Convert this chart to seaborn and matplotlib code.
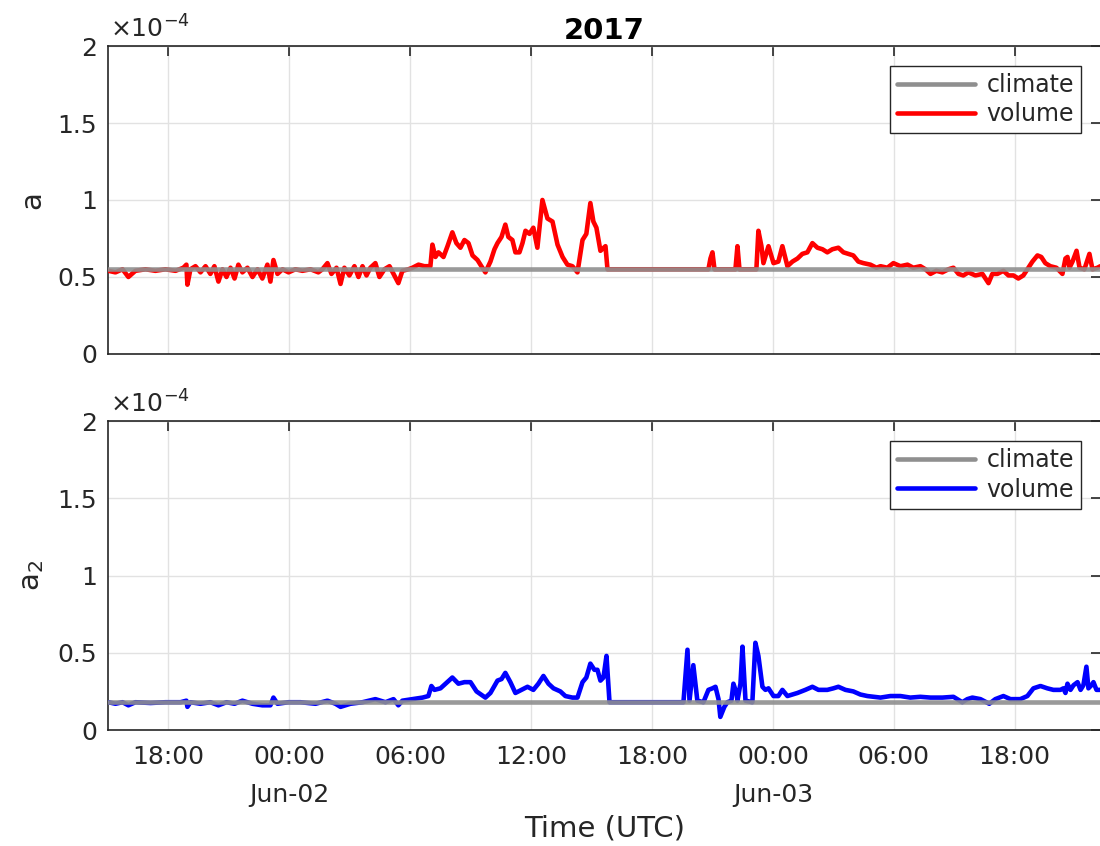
import numpy as np
import pandas as pd
import matplotlib
matplotlib.use('Agg')
import matplotlib.pyplot as plt
import seaborn as sns

# Hours after 2017-06-01 00:00 UTC, values in units of 1e-4
a_hours = [15.02, 15.37, 15.72, 16.01, 16.36, 16.86, 17.35, 17.85, 18.35, 18.74,
           18.89, 18.94, 19.09, 19.34, 19.59, 19.84, 20.08, 20.28, 20.48, 20.68,
           20.88, 21.08, 21.28, 21.47, 21.67, 21.92, 22.17, 22.42, 22.66, 22.91,
           23.06, 23.21, 23.41, 23.66, 23.96, 24.30, 24.65, 25.05, 25.44, 25.64,
           25.89, 26.09, 26.34, 26.54, 26.73, 26.98, 27.23, 27.43, 27.63, 27.83,
           28.02, 28.27, 28.47, 28.72, 28.97, 29.17, 29.41, 29.61, 29.91, 30.11,
           30.41, 30.70, 31.00, 31.10, 31.25, 31.40, 31.65, 31.85, 32.09, 32.29,
           32.49, 32.69, 32.89, 33.09, 33.34, 33.53, 33.73, 33.98, 34.18, 34.33,
           34.53, 34.72, 34.87, 35.07, 35.22, 35.42, 35.57, 35.72, 35.92, 36.11,
           36.31, 36.56, 36.81, 37.06, 37.31, 37.56, 37.80, 38.05, 38.30, 38.55,
           38.74, 38.94, 39.09, 39.24, 39.44, 39.69, 39.79, 44.80, 44.90, 45.00,
           45.10, 46.14, 46.24, 46.34, 47.18, 47.28, 47.43, 47.53, 47.78, 48.03,
           48.27, 48.47, 48.72, 48.97, 49.22, 49.46, 49.71, 49.96, 50.21, 50.46,
           50.70, 50.95, 51.25, 51.50, 51.75, 51.99, 52.24, 52.49, 52.84, 53.14,
           53.34, 53.68, 53.98, 54.33, 54.68, 54.97, 55.32, 55.57, 55.82, 56.11,
           56.41, 56.71, 56.96, 57.21, 57.45, 57.70, 58.05, 58.40, 58.70, 58.89,
           59.14, 59.44, 59.69, 59.94, 60.18, 60.43, 60.63, 60.88, 61.13, 61.32,
           61.52, 61.77, 62.07, 62.37, 62.52, 62.62, 62.72, 62.87, 63.07, 63.22,
           63.46, 63.71, 63.86, 64.11, 64.25]
a_volume = [0.54, 0.53, 0.55, 0.50, 0.54, 0.55, 0.54, 0.55, 0.54, 0.56,
            0.58, 0.45, 0.55, 0.57, 0.53, 0.57, 0.52, 0.57, 0.47, 0.55,
            0.50, 0.56, 0.49, 0.58, 0.53, 0.56, 0.50, 0.55, 0.49, 0.58,
            0.47, 0.61, 0.52, 0.55, 0.53, 0.55, 0.54, 0.55, 0.53, 0.55,
            0.59, 0.52, 0.56, 0.455, 0.56, 0.51, 0.57, 0.50, 0.57, 0.51,
            0.56, 0.59, 0.50, 0.55, 0.57, 0.52, 0.46, 0.54, 0.55, 0.56,
            0.58, 0.57, 0.57, 0.71, 0.63, 0.66, 0.63, 0.70, 0.79, 0.72,
            0.69, 0.74, 0.72, 0.64, 0.61, 0.57, 0.53, 0.60, 0.68, 0.72,
            0.76, 0.84, 0.76, 0.74, 0.66, 0.66, 0.72, 0.80, 0.78, 0.82,
            0.69, 1.00, 0.88, 0.86, 0.71, 0.63, 0.58, 0.57, 0.53, 0.74,
            0.78, 0.98, 0.86, 0.82, 0.67, 0.70, 0.55, 0.55, 0.62, 0.66,
            0.55, 0.55, 0.70, 0.55, 0.55, 0.80, 0.70, 0.59, 0.70, 0.59,
            0.60, 0.70, 0.57, 0.60, 0.62, 0.65, 0.66, 0.72, 0.69, 0.68,
            0.66, 0.68, 0.69, 0.66, 0.65, 0.64, 0.60, 0.59, 0.58, 0.56,
            0.57, 0.56, 0.59, 0.57, 0.58, 0.56, 0.57, 0.55, 0.52, 0.54,
            0.53, 0.55, 0.56, 0.52, 0.51, 0.53, 0.51, 0.52, 0.46, 0.52,
            0.52, 0.54, 0.51, 0.51, 0.49, 0.51, 0.55, 0.60, 0.64, 0.63,
            0.59, 0.57, 0.56, 0.52, 0.62, 0.63, 0.56, 0.60, 0.67, 0.56,
            0.55, 0.65, 0.55, 0.56, 0.57]

a2_hours = [15.02, 15.37, 15.72, 16.01, 16.36, 17.11, 17.85, 18.60, 18.89, 18.94,
            19.09, 19.59, 20.08, 20.48, 20.88, 21.28, 21.67, 22.17, 22.66, 23.06,
            23.21, 23.41, 23.96, 24.55, 25.30, 25.89, 26.29, 26.54, 27.03, 27.63,
            28.27, 28.77, 29.17, 29.41, 29.61, 30.11, 30.61, 30.90, 31.05, 31.20,
            31.50, 31.75, 32.09, 32.39, 32.69, 32.99, 33.29, 33.73, 33.98, 34.33,
            34.53, 34.72, 34.97, 35.22, 35.52, 35.82, 36.11, 36.36, 36.61, 36.86,
            37.11, 37.45, 37.70, 38.05, 38.30, 38.55, 38.74, 38.94, 39.14, 39.29,
            39.44, 39.59, 39.74, 39.89, 43.56, 43.76, 43.86, 44.05, 44.25, 44.55,
            44.80, 45.00, 45.15, 45.30, 45.39, 45.59, 45.74, 45.94, 46.04, 46.19,
            46.24, 46.39, 46.49, 46.64, 46.98, 47.13, 47.28, 47.48, 47.63, 47.78,
            48.03, 48.27, 48.47, 48.72, 48.97, 49.22, 49.61, 49.96, 50.26, 50.70,
            51.00, 51.25, 51.60, 51.99, 52.34, 52.69, 53.34, 53.83, 54.33, 54.82,
            55.32, 55.82, 56.41, 56.96, 57.40, 57.65, 57.90, 58.30, 58.74, 59.04,
            59.44, 59.79, 60.28, 60.63, 60.93, 61.28, 61.62, 61.92, 62.27, 62.42,
            62.52, 62.62, 62.77, 62.92, 63.12, 63.27, 63.41, 63.56, 63.66, 63.81,
            63.91, 64.06, 64.25]
a2_volume = [0.18, 0.17, 0.18, 0.16, 0.18, 0.175, 0.18, 0.18, 0.19, 0.15,
             0.18, 0.17, 0.18, 0.16, 0.18, 0.17, 0.19, 0.17, 0.16, 0.16,
             0.21, 0.17, 0.18, 0.18, 0.17, 0.19, 0.17, 0.15, 0.17, 0.18,
             0.20, 0.18, 0.20, 0.16, 0.19, 0.20, 0.21, 0.22, 0.285, 0.26,
             0.27, 0.30, 0.34, 0.30, 0.31, 0.31, 0.25, 0.21, 0.24, 0.32,
             0.33, 0.37, 0.31, 0.24, 0.26, 0.28, 0.26, 0.30, 0.35, 0.30,
             0.27, 0.25, 0.22, 0.21, 0.21, 0.31, 0.34, 0.43, 0.39, 0.39,
             0.32, 0.34, 0.48, 0.18, 0.18, 0.52, 0.19, 0.42, 0.19, 0.18,
             0.26, 0.27, 0.28, 0.20, 0.085, 0.15, 0.18, 0.19, 0.30, 0.24,
             0.19, 0.30, 0.54, 0.19, 0.18, 0.565, 0.48, 0.28, 0.26, 0.27,
             0.22, 0.22, 0.26, 0.22, 0.23, 0.24, 0.26, 0.28, 0.26, 0.26,
             0.27, 0.28, 0.26, 0.25, 0.23, 0.22, 0.21, 0.22, 0.22, 0.21,
             0.215, 0.21, 0.21, 0.215, 0.18, 0.20, 0.21, 0.20, 0.17, 0.20,
             0.22, 0.20, 0.20, 0.22, 0.27, 0.285, 0.27, 0.26, 0.26, 0.27,
             0.24, 0.30, 0.26, 0.29, 0.31, 0.26, 0.29, 0.41, 0.27, 0.29,
             0.31, 0.26, 0.26]

climate_a = 0.55
climate_a2 = 0.18
t_range = [15.0, 64.3]
tick_hours = [18, 24, 30, 36, 42, 48, 54, 60]
tick_labels = ['18:00', '00:00\nJun-02', '06:00', '12:00', '18:00',
               '00:00\nJun-03', '06:00', '18:00']
y_ticks = [0, 0.5, 1, 1.5, 2]
y_ticklabels = ['0', '0.5', '1', '1.5', '2']

T0 = pd.Timestamp('2017-06-01 00:00')
DARK = '#262626'


def to_time(hours):
    return T0 + pd.to_timedelta(np.asarray(hours), unit='h')


def draw_panel(ax, hours, values, climate, color, ylabel):
    vol = pd.DataFrame({'time': to_time(hours), 'value': values})
    clim = pd.DataFrame({'time': to_time(t_range), 'value': [climate, climate]})
    sns.lineplot(data=vol, x='time', y='value', ax=ax, color=color, lw=3.3,
                 estimator=None, sort=False, label='volume', zorder=3)
    sns.lineplot(data=clim, x='time', y='value', ax=ax, color='#8f8f8f', lw=3.3,
                 alpha=0.9, estimator=None, label='climate', zorder=4)

    ax.set_xlim(to_time(t_range))
    ax.set_ylim(0, 2)
    ax.set_xticks(to_time(tick_hours))
    ax.set_xticklabels(tick_labels, linespacing=1.7)
    ax.set_yticks(y_ticks)
    ax.set_yticklabels(y_ticklabels)
    ax.grid(True, color='#e2e2e2', lw=1.0, zorder=0)
    ax.tick_params(direction='in', length=7.5, width=1.2, top=True, right=True,
                   labelsize=18, colors=DARK, pad=8)
    ax.tick_params(axis='x', pad=11)
    for sp in ax.spines.values():
        sp.set_color(DARK)
        sp.set_linewidth(1.2)
    ax.set_xlabel('')
    ax.set_ylabel(ylabel, fontsize=21, color=DARK)
    ax.yaxis.set_label_coords(-0.062, 0.5)
    ax.text(0.002, 1.012, r'$\times$10$^{\mathregular{-4}}$', transform=ax.transAxes,
            fontsize=18, color=DARK, ha='left', va='bottom')

    handles, labels = ax.get_legend_handles_labels()
    leg = ax.legend([handles[1], handles[0]], [labels[1], labels[0]],
                    loc='upper right', fontsize=17, fancybox=False,
                    edgecolor=DARK, framealpha=1, borderaxespad=0.85,
                    handlelength=3.3, borderpad=0.3, labelspacing=0.22,
                    handletextpad=0.5)
    leg.get_frame().set_linewidth(1.0)
    for line in leg.get_lines():
        line.set_linewidth(3.3)
        line.set_alpha(1)


sns.set_style('white')
plt.rcParams['font.family'] = ['DejaVu Sans']
plt.rcParams['axes.unicode_minus'] = False

fig = plt.figure(figsize=(11, 8.46), dpi=100)
ax1 = fig.add_axes([0.0982, 0.5816, 0.903, 0.364])
ax2 = fig.add_axes([0.0982, 0.1371, 0.903, 0.365])

draw_panel(ax1, a_hours, a_volume, climate_a, '#ff0000', 'a')
draw_panel(ax2, a2_hours, a2_volume, climate_a2, '#0000ff', r'$\mathregular{a_2}$')

ax1.tick_params(labelbottom=False)
ax1.set_title('2017', fontsize=21, fontweight='bold', color='black', pad=5)
ax2.set_xlabel('Time (UTC)', fontsize=21, color=DARK, labelpad=6)

fig.savefig('out.png', dpi=100)
